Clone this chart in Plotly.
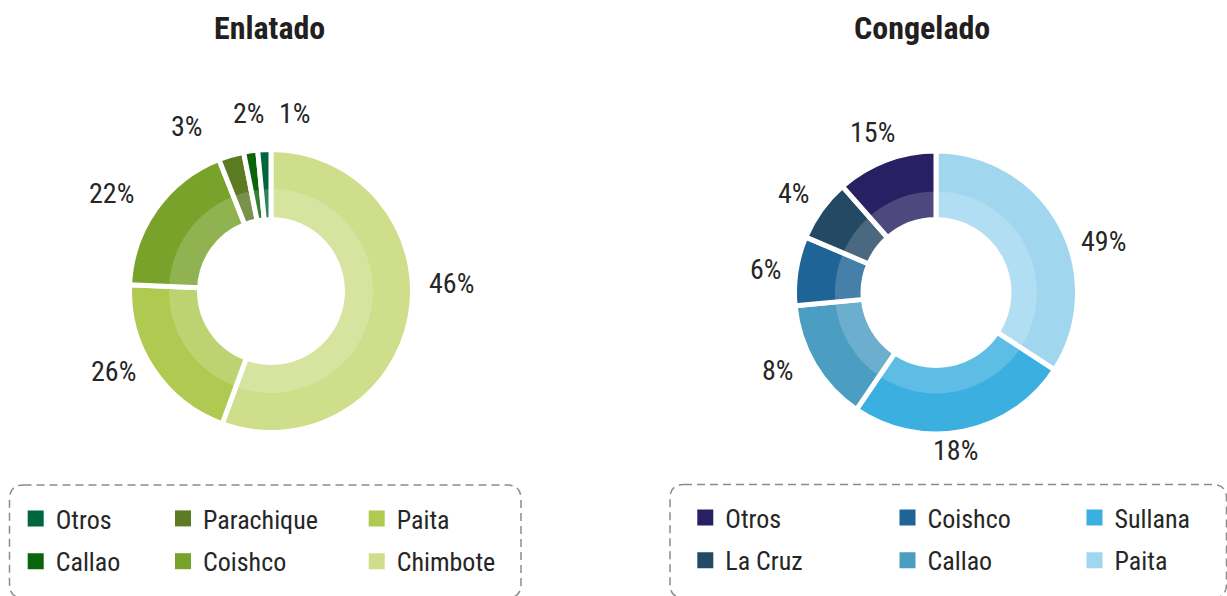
import math
import plotly.graph_objects as go

W, H = 1227, 596

# ---------------- data ----------------
enl_title = "Enlatado"
enl_categories = ["Chimbote", "Paita", "Coishco", "Parachique", "Callao", "Otros"]
enl_share = [55.6, 20.1, 18.3, 2.9, 1.6, 1.5]          # slice sizes
enl_labels = ["46%", "26%", "22%", "3%", "2%", "1%"]    # printed labels
enl_colors = ["#CFDE8B", "#AFC951", "#79A22B", "#5C7B22", "#0A6409", "#00663D"]

con_title = "Congelado"
con_categories = ["Paita", "Sullana", "Callao", "Coishco", "La Cruz", "Otros"]
con_share = [34.2, 25.3, 14.0, 7.9, 7.1, 11.5]
con_labels = ["49%", "18%", "8%", "6%", "4%", "15%"]
con_colors = ["#A0D7EF", "#3AAFE0", "#4C9DC2", "#1E6497", "#234965", "#272163"]

# legend layout (columns of category names)
enl_legend_cols = [["Otros", "Callao"], ["Parachique", "Coishco"], ["Paita", "Chimbote"]]
con_legend_cols = [["Otros", "La Cruz"], ["Coishco", "Callao"], ["Sullana", "Paita"]]

# label placement tweaks (style)
enl_label_nudge = [-12.6, 6.6, -4.0, -10.7, 1.3, 10.5]
enl_label_dist = [1.30, 1.275, 1.345, 1.326, 1.283, 1.286]
con_label_nudge = [11.5, 4.2, 4.2, -1.1, -1.0, -0.8]
con_label_dist = [1.258, 1.142, 1.266, 1.232, 1.242, 1.238]

FONT = "Liberation Sans Narrow, Roboto Condensed, DejaVu Sans Condensed, Arial Narrow, sans-serif"
TXT = "#262626"
GAP = 5.0


def px_x(x):
    return x / W


def px_y(y):
    return 1 - y / H


def domain(cx, cy, r):
    return dict(x=[px_x(cx - r), px_x(cx + r)], y=[px_y(cy + r), px_y(cy - r)])


fig = go.Figure()
annotations = []
shapes = []


def add_donut(cats, share, colors, labels, nudges, dists, cx, cy, R, r_band, r_hole, title, tx):
    # outer ring
    Rd = R + GAP / 2
    hole_d = (r_hole - GAP / 2) / Rd
    fig.add_trace(go.Pie(
        labels=cats, values=share, sort=False, direction="clockwise", rotation=0,
        marker=dict(colors=colors, line=dict(color="white", width=GAP)),
        hole=hole_d, textinfo="none", showlegend=False, domain=domain(cx, cy, Rd),
        hovertemplate="%{label}<extra></extra>",
    ))
    # lighter inner band
    fig.add_trace(go.Pie(
        labels=cats, values=share, sort=False, direction="clockwise", rotation=0,
        marker=dict(colors=["rgba(255,255,255,0.18)"] * len(cats), line=dict(width=0)),
        hole=r_hole / r_band, textinfo="none", showlegend=False,
        domain=domain(cx, cy, r_band), hoverinfo="skip",
    ))
    total = sum(share)
    cum = 0.0
    for v, lab, nd, ds in zip(share, labels, nudges, dists):
        mid = (cum + v / 2) / total * 360 + nd
        cum += v
        a = math.radians(mid)
        x = cx + ds * R * math.sin(a)
        y = cy - ds * R * math.cos(a)
        annotations.append(dict(x=px_x(x), y=px_y(y), xref="paper", yref="paper",
                                text=lab, showarrow=False, xanchor="center", yanchor="middle",
                                font=dict(family=FONT, size=28, color=TXT)))
    annotations.append(dict(x=px_x(tx), y=px_y(28), xref="paper", yref="paper", text="<b>%s</b>" % title,
                            showarrow=False, xanchor="center", yanchor="middle",
                            font=dict(family=FONT, size=32, color="#231F20")))


add_donut(enl_categories, enl_share, enl_colors, enl_labels, enl_label_nudge, enl_label_dist,
          271, 291, 139, 102, 74, enl_title, 269)
add_donut(con_categories, con_share, con_colors, con_labels, con_label_nudge, con_label_dist,
          936, 292.5, 139, 101, 75.5, con_title, 922)

# legends: dummy square markers, one legend per column
legend_layout = {}
leg_idx = 0


def add_legend(cols, cats, colors, col_x, top):
    global leg_idx
    cmap = dict(zip(cats, colors))
    for names, lx in zip(cols, col_x):
        leg_idx += 1
        lname = "legend" if leg_idx == 1 else "legend%d" % leg_idx
        for n in names:
            fig.add_trace(go.Scatter(
                x=[None], y=[None], mode="markers", name=n, legend=lname,
                legendgroup="%s_%s" % (lname, n),
                marker=dict(symbol="square", size=16, color=cmap[n]),
                hoverinfo="skip",
            ))
        legend_layout[lname] = dict(
            x=px_x(lx), y=px_y(top), xanchor="left", yanchor="top",
            orientation="v", traceorder="grouped", tracegroupgap=6,
            bgcolor="rgba(0,0,0,0)", borderwidth=0,
            font=dict(family=FONT, size=26, color=TXT),
            itemsizing="trace",
        )


add_legend(enl_legend_cols, enl_categories, enl_colors, [15.7, 163.0, 356.7], 495)
add_legend(con_legend_cols, con_categories, con_colors, [685.3, 887.5, 1074.5], 494)


def rounded_box(x0, y0, x1, y1, r):
    pts = [
        ("M", (x0 + r, y0)), ("L", (x1 - r, y0)), ("Q", (x1, y0), (x1, y0 + r)),
        ("L", (x1, y1 - r)), ("Q", (x1, y1), (x1 - r, y1)), ("L", (x0 + r, y1)),
        ("Q", (x0, y1), (x0, y1 - r)), ("L", (x0, y0 + r)), ("Q", (x0, y0), (x0 + r, y0)),
    ]
    s = ""
    for p in pts:
        s += p[0] + " " + " ".join("%.5f,%.5f" % (px_x(a), px_y(b)) for a, b in p[1:]) + " "
    return dict(type="path", path=s + "Z", xref="paper", yref="paper",
                line=dict(color="#8C8C8C", width=1.5, dash="8px,5px"))


shapes.append(rounded_box(9.5, 485, 521, 598, 14))
shapes.append(rounded_box(670, 484.5, 1226.5, 598, 14))

fig.update_layout(
    width=W, height=H, margin=dict(l=0, r=0, t=0, b=0),
    paper_bgcolor="white", plot_bgcolor="white",
    xaxis=dict(visible=False, range=[0, 1]), yaxis=dict(visible=False, range=[0, 1]),
    annotations=annotations, shapes=shapes,
    **legend_layout,
)

fig.write_html("out.html", config={"displayModeBar": False},
               post_script="document.body.style.margin='0px';document.body.style.overflow='hidden';")
